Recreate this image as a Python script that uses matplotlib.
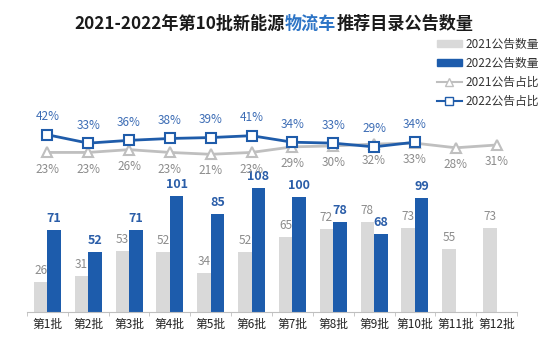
import numpy as np
import matplotlib.pyplot as plt
from matplotlib.patches import Patch
from matplotlib.lines import Line2D

plt.rcParams['font.family'] = ['Noto Sans CJK SC', 'DejaVu Sans']

batches = ['第1批', '第2批', '第3批', '第4批', '第5批', '第6批',
           '第7批', '第8批', '第9批', '第10批', '第11批', '第12批']
count_2021 = [26, 31, 53, 52, 34, 52, 65, 72, 78, 73, 55, 73]
count_2022 = [71, 52, 71, 101, 85, 108, 100, 78, 68, 99]
share_2021 = [23, 23, 26, 23, 21, 23, 29, 30, 32, 33, 28, 31]
share_2022 = [42, 33, 36, 38, 39, 41, 34, 33, 29, 34]

gray_bar = '#D9D9D9'
blue_bar = '#1D5CAC'
gray_line = '#BFBFBF'
blue_line = '#1F5CAA'
gray_txt = '#8C8C8C'
blue_txt = '#2A5DA8'
blue_pct = '#3D6DB5'

W, H = 550, 348
fig = plt.figure(figsize=(W / 100, H / 100), dpi=100)
ax = fig.add_axes([27 / W, (H - 312) / H, 490 / W, 252 / H])
ax2 = ax.twinx()

x = np.arange(len(batches))
x22 = np.arange(len(count_2022))
bw = 0.33

ax.bar(x - bw / 2, count_2021, bw, color=gray_bar, zorder=2)
ax.bar(x22 + bw / 2, count_2022, bw, color=blue_bar, zorder=2)
for i, v in enumerate(count_2021):
    ax.annotate(str(v), (i - bw / 2, v), xytext=(0, 3.5), textcoords='offset points',
                ha='center', va='bottom', fontsize=8.5, color=gray_txt)
for i, v in enumerate(count_2022):
    ax.annotate(str(v), (i + bw / 2, v), xytext=(0, 3.5), textcoords='offset points',
                ha='center', va='bottom', fontsize=9, color=blue_txt, fontweight='bold')

ax.set_xlim(-0.5, len(batches) - 0.5)
ax.set_ylim(0, 219)
ax.set_xticks(x)
ax.set_xticklabels(batches, fontsize=8.5, color='#222222')
ax.set_xticks(np.arange(-0.5, len(batches)), minor=True)
ax.tick_params(axis='x', which='major', length=0, pad=4)
ax.tick_params(axis='x', which='minor', length=3, color='#BFBFBF')
ax.set_yticks([])
for s in ['top', 'right', 'left']:
    ax.spines[s].set_visible(False)
    ax2.spines[s].set_visible(False)
ax2.spines['bottom'].set_visible(False)
ax.spines['bottom'].set_color('#BFBFBF')

# share lines on their own scale
ax2.plot(x, share_2021, color=gray_line, lw=2, marker='^', ms=7,
         mfc='white', mec=gray_line, mew=1.5, zorder=3)
ax2.plot(x22, share_2022, color=blue_line, lw=2, marker='s', ms=6.5,
         mfc='white', mec=blue_line, mew=1.5, zorder=4)
for i, v in enumerate(share_2021):
    ax2.annotate(f'{v}%', (i, v), xytext=(0, -12), textcoords='offset points',
                 ha='center', va='center', fontsize=8.5, color=gray_txt)
for i, v in enumerate(share_2022):
    ax2.annotate(f'{v}%', (i, v), xytext=(0, 13), textcoords='offset points',
                 ha='center', va='center', fontsize=8.5, color=blue_pct)
ax2.set_ylim(-148.6, 122.4)
ax2.set_yticks([])

# title with the highlighted middle part
parts = [('2021-2022年第10批新能源', '#1A1A1A'), ('物流车', '#2E75C6'),
         ('推荐目录公告数量', '#1A1A1A')]
texts = [fig.text(0, 1 - 24 / H, s, color=c, fontsize=12.3, fontweight='bold',
                  va='center', ha='left') for s, c in parts]
fig.canvas.draw()
r = fig.canvas.get_renderer()
widths = [t.get_window_extent(r).width for t in texts]
start = 274 - sum(widths) / 2
for t, w in zip(texts, widths):
    t.set_x(start / W)
    start += w

handles = [Patch(color=gray_bar), Patch(color=blue_bar),
           Line2D([], [], color=gray_line, lw=1.5, marker='^', ms=6, mfc='white', mec=gray_line),
           Line2D([], [], color=blue_line, lw=1.5, marker='s', ms=6, mfc='white', mec=blue_line)]
labels = ['2021公告数量', '2022公告数量', '2021公告占比', '2022公告占比']
fig.legend(handles, labels, loc='upper left', bbox_to_anchor=(437 / W, 1 - 38 / H),
           frameon=False, fontsize=8.5, handlelength=2.1, handleheight=0.5,
           handletextpad=0.35, labelspacing=0.5, borderpad=0, borderaxespad=0,
           labelcolor='#333333')

fig.savefig('out.png', dpi=100)
